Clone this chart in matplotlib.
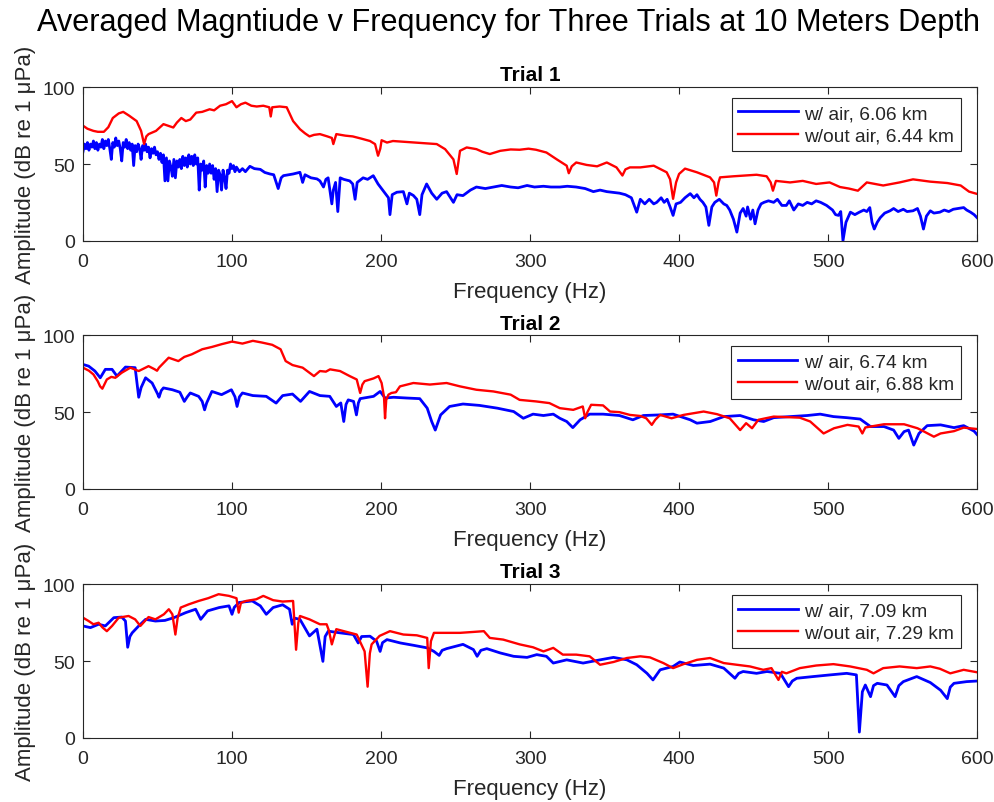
import matplotlib
matplotlib.use("Agg")
import matplotlib.pyplot as plt

plt.rcParams["font.family"] = ["Liberation Sans", "DejaVu Sans"]

# ---- Trial 1 ----
t1_air_f = [0, 1, 2, 3, 4, 5, 6, 7, 8, 9, 10, 11, 12, 13, 14, 15, 16, 17, 18, 19,
            20, 21, 22, 23, 24, 25, 26, 27, 28, 29, 30, 31, 32, 33, 34, 35, 36, 37, 38, 39,
            40, 41, 42, 43, 44, 45, 46, 47, 48, 49, 50, 51, 52, 53, 54, 55, 56, 57, 58, 59,
            60, 61, 62, 63, 64, 65, 66, 67, 68, 69, 70, 71, 72, 73, 74, 75, 76, 77, 78, 79,
            80, 81, 82, 83, 84, 85, 86, 87, 88, 89, 90, 91, 92, 93, 94, 95, 96, 97, 98, 99,
            100, 101, 102, 103, 105, 107, 109, 112, 115, 119, 122, 125.5, 128, 131, 133, 134.5, 138, 141, 145.6, 147.4,
            149, 153, 157, 159, 161.4, 163, 164.5, 167, 168, 169.5, 171, 172.6, 175, 179, 181, 182.6, 184, 188, 191, 194.8,
            198, 202.7, 205, 206, 207.5, 210.6, 215, 217.4, 219, 221.7, 224, 226, 227.5, 230.6, 234, 237.4, 241, 244, 248.6, 251,
            255, 260, 264, 270, 275.4, 281, 287, 292, 298, 303, 309, 314, 320, 325, 331, 337, 342.5, 347, 351.5, 356,
            360, 364, 368, 371.6, 374, 377, 380, 383, 385, 388, 390, 392, 394, 396, 398, 401, 404, 407.5, 410, 412,
            414, 416, 418, 420, 422, 424, 427, 430, 432, 434, 436.5, 438.8, 441, 443, 445, 446, 448, 449.5, 451, 453,
            455, 457, 460, 463.5, 466, 469, 472, 474, 477, 480, 483, 486, 489, 492, 495, 499, 503, 505, 507, 508.5,
            510, 512, 515, 518, 521, 524, 526, 528, 529.5, 531, 533, 535, 538, 541.6, 544, 547, 550.5, 553, 557, 560,
            562, 564, 566, 568.6, 571, 575, 578, 581, 584, 587, 591, 593, 595.6, 598, 600]
t1_air_db = [58, 63, 60, 64, 59, 63, 61, 65, 60, 64, 59, 63, 61, 66, 60, 65, 62, 66, 60, 53,
             64, 61, 67, 62, 65, 60, 52, 64, 61, 66, 60, 64, 59, 63, 49, 62, 58, 63, 60, 53,
             62, 59, 63, 58, 61, 54, 60, 57, 61, 56, 58, 53, 57, 51, 56, 39, 54, 39, 52, 48,
             42, 53, 41, 52, 48, 53, 47, 55, 49, 54, 48, 56, 50, 55, 49, 56, 50, 54, 33, 50,
             46, 52, 35, 49, 44, 50, 44, 49, 40, 47, 32, 46, 43, 33, 46, 41, 34, 46, 44, 50,
             47, 49, 45, 48, 45, 47, 45, 48.5, 47, 46.5, 44.5, 43.5, 43, 34, 41, 42.4, 43, 43.5, 44.6, 38,
             43, 41, 40.3, 39, 35, 40, 41, 24, 33, 38, 19, 41, 40, 39, 37, 27, 38, 41, 40, 42.4,
             37, 31, 28, 17, 30, 31.6, 32, 24, 31, 29.5, 27, 17, 30, 37, 31, 27, 31, 32, 25, 30,
             29.4, 33, 35, 34, 35, 36, 35, 34.5, 36, 35, 35.5, 35, 35, 35.5, 35, 34, 32, 33, 32, 31.5,
             31, 30, 28, 18.6, 27, 24, 27, 24, 25, 28, 25, 27, 22, 16.5, 24, 25, 28, 30.7, 28, 30,
             27, 25, 22, 10, 22, 25, 27, 24, 23, 20, 14, 5.6, 18, 21, 16, 22, 14, 20, 11, 20,
             24, 25, 26, 25, 27, 23, 23, 26, 20, 24, 23, 25, 24, 26, 25, 23, 20, 17, 16.5, 19,
             0, 12, 18.6, 17, 18.6, 20, 19, 21.6, 12, 7.6, 12, 15, 18, 19.5, 21, 19, 20.5, 19, 19.5, 21,
             16, 7.6, 16, 19.5, 18, 18.6, 20, 19, 20.5, 21, 21.6, 20, 18.6, 17, 15]

t1_noair_f = [0, 3, 7, 10, 14, 17, 20, 24, 27, 31, 36, 39, 41, 42.5, 44, 49, 54, 57, 60.6, 63,
              66, 69, 72, 76, 80, 85, 88, 92, 96, 100, 103, 106, 109, 113, 116.6, 121, 125, 126, 127, 132,
              136.7, 141, 145.6, 149, 152, 155, 159, 164, 167, 168, 170, 176, 181, 187, 192.6, 196, 198, 199.5, 200.4, 204,
              208, 215, 222, 230, 237.4, 243, 248.6, 250.8, 253, 257.5, 264, 268, 273, 280, 287, 293, 299, 304, 311, 318,
              324.6, 326, 328, 331, 338, 345, 351.5, 358, 362, 364, 367, 374, 383, 391.7, 394, 396, 398, 400, 404, 412,
              420.8, 423.5, 425, 426.5, 427.5, 436.5, 444, 452, 458.8, 461.5, 463, 465, 474.5, 483, 492, 501, 508, 514, 520, 526,
              537, 548, 557, 568.6, 580, 589, 594.6, 600]
t1_noair_db = [75, 73, 71.6, 71, 71, 74, 80, 83, 84, 81.5, 78, 71.6, 63, 68, 69.5, 71.6, 76, 75, 73.8, 77,
               80, 78, 79, 83.5, 84, 85.7, 85, 88, 89, 91, 87, 89, 90, 88, 87.5, 88, 87, 81, 87, 87.5,
               87, 78, 72.7, 70, 68, 69, 69.5, 68, 67, 63, 69.5, 68.5, 68, 66.5, 65, 63, 55.4, 60, 65.5, 64,
               65, 64.5, 64, 63.5, 63, 59.7, 53, 43.5, 58.6, 60.8, 59.7, 58, 56.5, 58.6, 59.5, 59.3, 60, 59.3, 57.5, 53,
               48.9, 44, 48.5, 51, 49.4, 48.5, 51, 47.8, 42.5, 46.5, 47.8, 47.8, 48.9, 44.6, 40, 27.3, 38, 43.5, 47, 44.6,
               41.3, 38, 29.4, 38, 41.3, 42, 42.5, 43, 42, 38, 32.6, 39, 38, 39, 37, 38, 35, 34, 32.6, 38,
               36, 38, 40, 38.5, 37.6, 36, 32, 30.5]

# ---- Trial 2 ----
t2_air_f = [0, 3.8, 8, 11.6, 15, 19.5, 22.8, 28.5, 35, 37.4, 39, 42, 46.4, 50, 51, 52.5, 54, 60, 65, 68,
            70, 72, 77.6, 80, 81.6, 83, 86.5, 93, 99.6, 102, 103.4, 105, 107, 114, 123, 129.6, 134, 140.6, 146, 152,
            159, 165.6, 170, 171.4, 173, 175, 176.5, 178, 181.6, 183.5, 184.8, 186, 195, 199.4, 202.7, 208.4, 217.4, 226, 231, 234,
            236.4, 240, 246, 255, 266, 278, 289, 295.5, 302, 309, 315.6, 320, 324.6, 328.7, 333.6, 340, 349, 360, 369, 376,
            387, 396, 407.5, 412, 421, 430, 441, 450, 456.8, 463.5, 474.5, 486, 494.7, 503.6, 512.5, 521.5, 528.5, 537.5, 544, 547.5,
            551, 554, 557.5, 561, 566.5, 575.5, 584.5, 591, 598, 600]
t2_air_db = [81.1, 80, 76.8, 72.4, 77.9, 77.9, 73.5, 79.4, 79, 59.7, 66, 72.4, 69, 62, 59.7, 64, 65.8, 64.6, 63, 57,
             60, 62.5, 60.3, 57, 51.5, 56, 63.5, 61.4, 64.6, 60, 53.7, 60, 62.5, 60.8, 60.3, 55.9, 60.8, 61.8, 57, 63.5,
             60.8, 60.3, 53.7, 54.8, 56, 43.9, 55, 58, 57, 48.2, 56, 58.8, 60.3, 63.5, 59.2, 59.7, 59.2, 58.8, 52.6, 43.9,
             38.3, 48.2, 53.7, 55.3, 54.4, 52.6, 50.4, 46, 48.7, 47.8, 48.7, 46, 43.9, 39.9, 45, 48.7, 48.7, 47.8, 45, 47.8,
             48.2, 48.7, 45, 42.8, 43.9, 47.1, 47.8, 45, 43.9, 46.4, 47.1, 47.8, 48.7, 47.1, 46.4, 45.5, 40.6, 40.6, 38.3, 32.9,
             37.3, 38.3, 28.5, 36.1, 41.2, 41.7, 39.9, 41.2, 37.6, 35.4]

t2_noair_f = [0, 4, 7, 10, 11.5, 13, 16, 19, 21.7, 26, 31.8, 37.4, 44, 48, 49.7, 51, 54, 57.5, 64, 68,
              73, 80, 86.5, 93, 100, 107, 114, 120, 127, 132.6, 136, 140.6, 147.4, 155, 159, 163, 165.8, 172.5, 179, 183.7,
              186, 187.5, 189, 195, 198.3, 200.4, 202, 202.7, 203.5, 205, 207, 210, 212.7, 221.7, 232.8, 244, 253, 264, 275.4, 287,
              293, 304, 313, 320, 329, 335.4, 337, 338.5, 341, 349, 353.7, 360, 367, 374, 378, 381.7, 384, 387.3, 395, 403,
              416.5, 425.4, 434, 441, 445, 449, 453.2, 463.5, 481, 488, 497, 504, 513, 520.5, 523, 525, 528.5, 537.5, 551, 560,
              564.5, 571, 575.5, 584.5, 591, 600]
t2_noair_db = [79, 77, 74.6, 70, 66.8, 65.3, 71.3, 73, 72.4, 75.7, 79, 76.8, 80, 78, 77, 79, 82, 85.5, 83.3, 86,
               87.7, 91, 92.5, 94.3, 96, 94.7, 96.5, 95.4, 93.9, 91, 83.3, 80.7, 79, 73.5, 76.8, 76.4, 77.9, 76.8, 73.5, 71.3,
               62.5, 68, 70.2, 72, 73.5, 69, 60, 46, 58, 61.4, 62.5, 63, 66.8, 69, 68, 69, 66.8, 64.6, 63.5, 61.4,
               58, 57, 55.9, 52.6, 51.5, 53.7, 46, 50, 54.8, 54.4, 50.4, 50, 48.2, 47.5, 46, 41.7, 45, 48.2, 46, 48.2,
               50.4, 48.7, 46, 38.3, 42.8, 39.5, 45, 47.1, 46.4, 43.9, 36.1, 39.5, 41.7, 40.6, 36.1, 40, 40.6, 42.1, 42.1, 39.5,
               37.3, 34, 36.1, 37.6, 39.9, 39]

# ---- Trial 3 ----
t3_air_f = [0, 5, 10.5, 15, 20.7, 26, 28.5, 30, 31.5, 33, 37.4, 42, 48.6, 55, 61, 69, 75.6, 79, 83.6, 91.4,
            98, 100, 101.5, 104.7, 113.6, 119, 123, 127.6, 134, 138.6, 140.4, 142, 145.6, 152, 157, 161, 162.5, 164.6, 172.5, 181.5,
            184.7, 187, 192.6, 197, 199.4, 201, 204, 213, 221.7, 231, 235.5, 239, 241, 244, 255, 262, 264.5, 267, 271, 280,
            289, 298, 304.5, 311, 315.6, 324.6, 335.6, 347, 356, 365, 371.6, 378.5, 382.5, 387.3, 396, 400.5, 409.5, 420.8, 430, 437.5,
            440, 443, 452, 459, 468, 473.5, 476, 479, 490, 501.5, 512.5, 519, 521, 523, 525, 528.5, 530.5, 533, 539.5, 545,
            547.5, 550.5, 559.5, 568.6, 575.5, 580, 582, 584.5, 593, 600]
t3_air_db = [72.9, 71.8, 74, 72.9, 78.3, 78.7, 76.1, 59, 66, 68.4, 72.9, 77.2, 76.1, 76.5, 78.3, 81.6, 83.8, 77.2, 82.7, 84.9,
             86, 80.5, 85, 88.2, 89.2, 86, 80.5, 84.9, 86.7, 83.8, 74, 78, 77.2, 66.4, 70.8, 49.8, 66, 69.5, 68.4, 67.3,
             61.8, 66, 66.2, 63, 56.3, 62, 64, 61.8, 60.3, 58.6, 56.3, 53.7, 57, 58.1, 60.9, 57.5, 53.1, 57, 58.1, 55.3,
             53.1, 52.4, 54.2, 53.1, 48.7, 50.8, 48.7, 50.8, 52.4, 50.8, 47.6, 42, 37.7, 44.3, 46.5, 49.4, 47.1, 48, 45.4, 38.8,
             42, 43.2, 42, 43.2, 42, 33.3, 37, 38.8, 39.9, 41, 42, 41, 3.7, 30, 34.4, 26.8, 34, 35.5, 34.4, 26.8,
             34, 36.6, 39.9, 36, 31, 25.5, 33, 35.5, 36.6, 37]

t3_noair_f = [0, 3.8, 7, 10.5, 13, 16, 19.5, 24, 30.6, 35, 38.5, 44, 48.6, 54.3, 57.6, 60, 62, 63.5, 65.6, 71,
              77.6, 84, 91, 98, 103, 104.5, 106, 109.5, 116.3, 121, 127.6, 134, 141, 143, 144.5, 145.6, 152, 159, 163.5, 165,
              167, 168.5, 170, 177, 183.7, 189, 191, 192.5, 193.7, 199, 206, 215, 224, 231, 232, 233.5, 235.5, 244, 253, 262,
              269, 273, 282, 293, 302, 309, 315.6, 322, 331, 340, 347, 356, 365, 374, 380.5, 389.5, 396, 403, 412, 420.8,
              430, 438.7, 447.6, 456.5, 462, 466.7, 469, 472, 481, 492, 503.6, 514.8, 526, 530.5, 537, 548, 559.5, 568.6, 575, 582,
              591, 600]
t3_noair_db = [78.3, 76.1, 74, 75, 72, 69.5, 72.9, 78.3, 79.4, 77.2, 72.9, 78.7, 77.2, 80.5, 83.8, 80.5, 67.3, 78, 84.9, 87,
               89.2, 91, 93.6, 92.5, 91, 81.6, 88, 89.2, 90.3, 92.5, 89.7, 88.8, 89.2, 57.4, 75, 79.4, 77.2, 74, 74, 70,
               60.9, 66, 70.8, 69, 67.3, 56.3, 33.3, 55, 60.9, 66.4, 69.5, 67.3, 66.8, 65.1, 45.4, 63, 68.4, 68.4, 68.4, 69,
               69.5, 65.1, 64, 60.9, 59, 56.3, 58.6, 54.2, 54.2, 53.1, 47.6, 49.4, 52, 53.1, 52.4, 48.7, 45.4, 48, 50.8, 52,
               48.7, 47.6, 46.5, 44.3, 45.4, 37.7, 43, 42, 45.4, 47.1, 48, 46.5, 44.3, 42, 45.4, 46.5, 45.4, 46.5, 45, 42,
               44.3, 42.7]

trial_titles = ["Trial 1", "Trial 2", "Trial 3"]
air_labels = ["w/ air, 6.06 km", "w/ air, 6.74 km", "w/ air, 7.09 km"]
noair_labels = ["w/out air, 6.44 km", "w/out air, 6.88 km", "w/out air, 7.29 km"]

trials = [
    (t1_air_f, t1_air_db, t1_noair_f, t1_noair_db),
    (t2_air_f, t2_air_db, t2_noair_f, t2_noair_db),
    (t3_air_f, t3_air_db, t3_noair_f, t3_noair_db),
]

dark = "#262626"
fig = plt.figure(figsize=(9.95, 8.03), dpi=100)
fig.suptitle("Averaged Magntiude v Frequency for Three Trials at 10 Meters Depth",
             fontsize=22.1, x=0.511, y=0.99, color="black")

bottoms = [0.699, 0.390, 0.080]
for i, (af, adb, nf, ndb) in enumerate(trials):
    ax = fig.add_axes([0.0834, bottoms[i], 0.8986, 0.191])
    ax.plot(af, adb, color=(0, 0, 1), lw=2.0, label=air_labels[i])
    ax.plot(nf, ndb, color=(1, 0, 0), lw=1.7, label=noair_labels[i])
    ax.set_xlim(0, 600)
    ax.set_ylim(0, 100)
    ax.set_xticks([0, 100, 200, 300, 400, 500, 600])
    ax.set_yticks([0, 50, 100])
    ax.tick_params(direction="in", top=True, right=True, length=5, width=0.8,
                   colors=dark, labelsize=14, labelcolor=dark)
    ax.tick_params(axis="x", pad=9)
    ax.tick_params(axis="y", pad=6)
    for sp in ax.spines.values():
        sp.set_color(dark)
        sp.set_linewidth(0.8)
    ax.set_title(trial_titles[i], fontsize=15, fontweight="bold", pad=5)
    ax.set_xlabel("Frequency (Hz)", fontsize=16, color=dark, labelpad=8)
    ax.set_ylabel("Amplitude (dB re 1 μPa)", fontsize=16, color=dark)
    ax.yaxis.set_label_coords(-0.052, 0.5)
    leg = ax.legend(loc="upper right", bbox_to_anchor=(0.982, 0.93), borderaxespad=0,
                    fontsize=13.8, handlelength=3.1, fancybox=False, framealpha=1,
                    edgecolor=dark, borderpad=0.35, labelspacing=0.25, handletextpad=0.35)
    leg.get_frame().set_linewidth(0.8)
    for t in leg.get_texts():
        t.set_color(dark)

fig.savefig("out.png", dpi=100)
